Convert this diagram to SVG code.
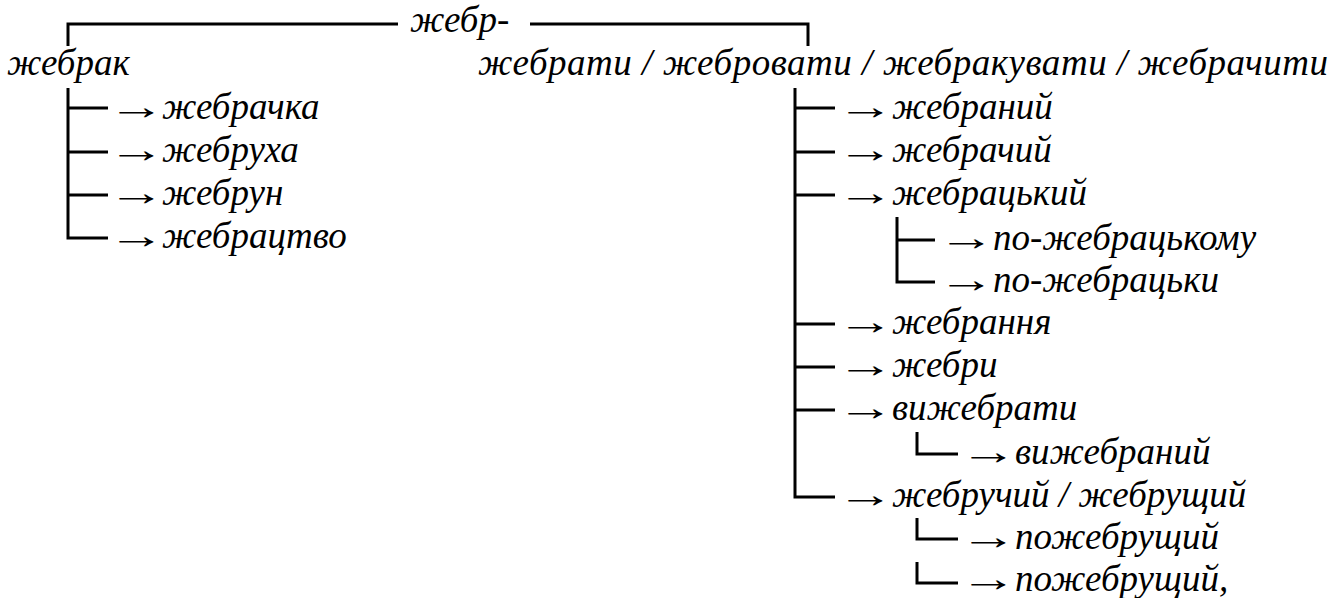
<svg xmlns="http://www.w3.org/2000/svg" width="1338" height="598" viewBox="0 0 1338 598">
  <style>
    text { font-family: "Liberation Serif", "Times New Roman", serif; font-style: italic; font-size: 37px; fill: #000; }
    .ar { font-style: normal; }
    .ln { fill: none; stroke: #000; stroke-width: 3; stroke-linecap: butt; stroke-linejoin: miter; }
  </style>
  <defs>
    <!-- long derivation arrow, stretched horizontally -->
    <text id="arw" class="ar" transform="scale(1.55 1)">→</text>
  </defs>
  <rect width="1338" height="598" fill="#fff"/>

  <!-- connectors -->
  <g id="connectors" class="ln">
    <!-- root bracket -->
    <path d="M68 46 V24 H398"/>
    <path d="M530 24 H808 V46"/>
    <!-- жебрак branch -->
    <path d="M68 88 V238 H108"/>
    <path d="M68 108 H108 M68 152 H108 M68 195 H108"/>
    <!-- verb branch -->
    <path d="M795 88 V497 H835"/>
    <path d="M795 108 H835 M795 152 H835 M795 195 H835 M795 324 H835 M795 367 H835 M795 410 H835"/>
    <!-- жебрацький sub-branch -->
    <path d="M897 217 V282 H935 M897 240 H935"/>
    <!-- вижебрати sub-branch -->
    <path d="M917 432 V454 H958"/>
    <!-- жебручий sub-branches -->
    <path d="M917 518 V539 H958"/>
    <path d="M917 562 V583 H958"/>
  </g>

  <g id="root"><text x="410" y="32">жебр-</text></g>
  <g id="n-zhebrak"><text x="7" y="75">жебрак</text></g>
  <g id="n-zhebrachka"><use href="#arw" x="108" y="119"/><text x="162" y="119">жебрачка</text></g>
  <g id="n-zhebrukha"><use href="#arw" x="108" y="162"/><text x="162" y="162">жебруха</text></g>
  <g id="n-zhebrun"><use href="#arw" x="108" y="205"/><text x="162" y="205">жебрун</text></g>
  <g id="n-zhebratstvo"><use href="#arw" x="108" y="248"/><text x="162" y="248">жебрацтво</text></g>

  <g id="n-verbs"><text x="478" y="75" textLength="850" lengthAdjust="spacing">жебрати / жебровати / жебракувати / жебрачити</text></g>
  <g id="n-zhebranyi"><use href="#arw" x="837" y="119"/><text x="892" y="119">жебраний</text></g>
  <g id="n-zhebrachyi"><use href="#arw" x="837" y="162"/><text x="892" y="162">жебрачий</text></g>
  <g id="n-zhebratskyi"><use href="#arw" x="837" y="205"/><text x="892" y="205">жебрацький</text></g>
  <g id="n-po-zhebratskomu"><use href="#arw" x="938" y="250"/><text x="993" y="250">по-жебрацькому</text></g>
  <g id="n-po-zhebratsky"><use href="#arw" x="938" y="292"/><text x="993" y="292">по-жебрацьки</text></g>
  <g id="n-zhebrannia"><use href="#arw" x="837" y="334"/><text x="892" y="334">жебрання</text></g>
  <g id="n-zhebry"><use href="#arw" x="837" y="377"/><text x="892" y="377">жебри</text></g>
  <g id="n-vyzhebraty"><use href="#arw" x="837" y="420"/><text x="892" y="420">вижебрати</text></g>
  <g id="n-vyzhebranyi"><use href="#arw" x="960" y="464"/><text x="1015" y="464">вижебраний</text></g>
  <g id="n-zhebruchyi"><use href="#arw" x="837" y="507"/><text x="892" y="507">жебручий / жебрущий</text></g>
  <g id="n-pozhebrushchyi-1"><use href="#arw" x="960" y="549"/><text x="1015" y="549">пожебрущий</text></g>
  <g id="n-pozhebrushchyi-2"><use href="#arw" x="960" y="591"/><text x="1015" y="591">пожебрущий,</text></g>
</svg>
